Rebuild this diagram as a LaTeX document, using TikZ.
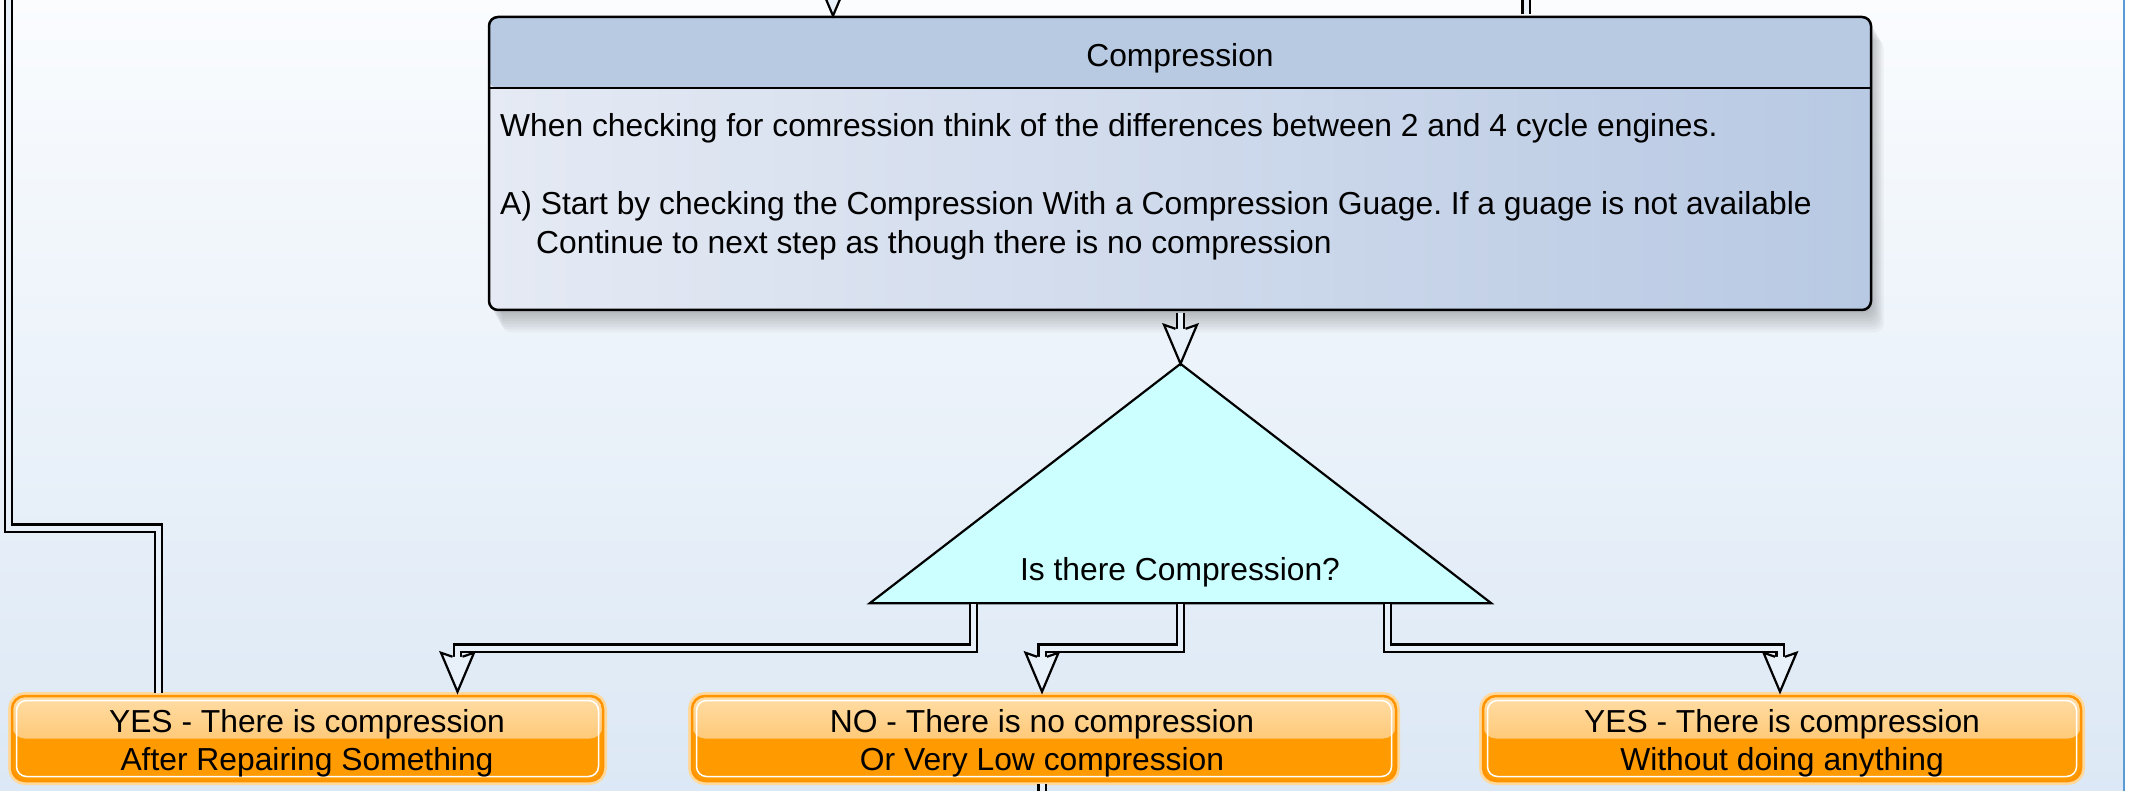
\documentclass[tikz,border=0pt]{standalone}
\usepackage{fontspec}
\setmainfont{Liberation Sans}
\usetikzlibrary{calc}
\frenchspacing
\definecolor{bgtop}{HTML}{FAFCFE}
\definecolor{bgbot}{HTML}{DCE8F5}
\definecolor{dbl}{HTML}{E8F0F9}
\definecolor{hdr}{HTML}{B8C9E2}
\definecolor{bodyL}{HTML}{E5EAF4}
\definecolor{bodyR}{HTML}{B8C9E3}
\definecolor{cyanf}{HTML}{CCFFFF}
\definecolor{orTop}{HTML}{FFDDA6}
\definecolor{orMid}{HTML}{FFB64C}
\definecolor{orBot}{HTML}{FF9A00}
\definecolor{orLine}{HTML}{FF9400}
\definecolor{orGlow}{HTML}{FFD89C}
\definecolor{edgeblue}{HTML}{5B9BD5}
\tikzset{
  txt/.style={inner sep=0pt, font=\fontsize{31.8pt}{38pt}\selectfont},
  conn/.style={draw=black, line width=2.2pt, double=dbl, double distance=5pt, line join=miter},
  headtip/.pic={
    \fill[dbl] (0,0) -- (-16.5,-39) -- (-5,-35) -- (5,-35) -- (16.5,-39) -- cycle;
    \draw[line width=2.2pt, line join=miter] (-5,-35) -- (-16.5,-39) -- (0,0) -- (16.5,-39) -- (5,-35);
  },
  obox/.style={draw=orLine, line width=2.5pt, rounded corners=13pt, fill=orBot,
    minimum width=#1, minimum height=85pt, inner sep=0pt,
    preaction={draw=orGlow, line width=8pt},
    path picture={
      \shade[top color=orTop, bottom color=orMid] (path picture bounding box.north west) rectangle (path picture bounding box.east);
      \draw[white, line width=1.5pt, rounded corners=10pt] ([shift={(4.5pt,4.5pt)}]path picture bounding box.south west) rectangle ([shift={(-4.5pt,-4.5pt)}]path picture bounding box.north east);
    }},
  cbox/.style={draw=black, line width=2.5pt, rounded corners=9pt,
    minimum width=1382pt, minimum height=293pt, inner sep=0pt,
    left color=bodyL, right color=bodyR,
    path picture={
      \fill[hdr] (path picture bounding box.north west) rectangle ([yshift=-71pt]path picture bounding box.north east);
      \draw[line width=2.5pt] ([yshift=-71pt]path picture bounding box.north west) -- ([yshift=-71pt]path picture bounding box.north east);
    }},
}
\begin{document}
\begin{tikzpicture}[x=1pt,y=-1pt]
\useasboundingbox (0,0) rectangle (2140,791);
\clip (0,0) rectangle (2140,791);
% background
\shade[top color=bgtop, bottom color=bgbot] (0,0) rectangle (2124,791);
\fill[white] (2124,0) rectangle (2140,791);
\draw[edgeblue, line width=2.5pt] (2124,0) -- (2124,791);
% shadow of compression box
\foreach \k in {1,...,8}
  \fill[black, opacity=0.03, rounded corners=9pt] (489+\k*1.6, 17+\k*2.8) rectangle (1871+\k*1.6, 310+\k*2.8);
% compression box
\node[cbox] (cmp) at (1180,163.5) {};
\node[txt, anchor=base] (cmpt) at (1180,67) {Compression};
\node[txt, anchor=base west] (cmpb1) at (500,137) {When checking for comression think of the differences between 2 and 4 cycle engines.};
\node[txt, anchor=base west] (cmpb2) at (500,215) {A) Start by checking the Compression With a Compression Guage. If a guage is not available};
\node[txt, anchor=base west] (cmpb3) at (536,254) {Continue to next step as though there is no compression};
% triangle
\node[minimum width=621pt, minimum height=239pt, inner sep=0pt] (tri) at (1180.5,483.5) {};
\draw[fill=cyanf, line width=2.2pt, line join=miter] (tri.south west) -- (tri.north) -- (tri.south east) -- cycle;
\node[txt, anchor=base] (q) at (1180,580) {Is there Compression?};
% orange boxes
\node[obox=591pt] (L) at (307.5,738.5) {};
\node[obox=704pt] (M) at (1044,738.5) {};
\node[obox=598pt] (R) at (1782,738.5) {};
\node[txt, anchor=base] (L1) at (307,732) {YES - There is compression};
\node[txt, anchor=base] (L2) at (307,770) {After Repairing Something};
\node[txt, anchor=base] (M1) at (1042,732) {NO - There is no compression};
\node[txt, anchor=base] (M2) at (1042,770) {Or Very Low compression};
\node[txt, anchor=base] (R1) at (1782,732) {YES - There is compression};
\node[txt, anchor=base] (R2) at (1782,770) {Without doing anything};
% coordinates
\coordinate (topin) at (833,-10);
\coordinate (topout) at (1526,-10);
\coordinate (lout) at (8.5,-10);
\coordinate (mout) at (1042,800);
\coordinate (lvl) at (0,648);
\coordinate (b1) at ($(tri.south west)!1/6!(tri.south east)$);
\coordinate (b2) at ($(tri.south west)!1/2!(tri.south east)$);
\coordinate (b3) at ($(tri.south west)!5/6!(tri.south east)$);
\coordinate (Lin) at ($(L.north)+(150,-3)$);
\coordinate (Min) at ($(M.north)+(-2,-3)$);
\coordinate (Rin) at ($(R.north)+(-2,-3)$);
% connectors
\draw[conn, shorten >=35pt] (topin) -- (topin |- cmp.north);
\pic at (topin |- cmp.north) {headtip};
\draw[conn] ($(cmp.north -| topout)+(0,-1.3)$) -- (topout);
\draw[conn, shorten >=35pt] ($(cmp.south -| tri.north)+(0,1.3)$) -- (tri.north);
\pic at (tri.north) {headtip};
\draw[conn, shorten >=35pt] ($(b1)+(0,1.2)$) -- (b1 |- lvl) -| (Lin);
\pic at (Lin) {headtip};
\draw[conn, shorten >=35pt] ($(b2)+(0,1.2)$) -- (b2 |- lvl) -| (Min);
\pic at (Min) {headtip};
\draw[conn, shorten >=35pt] ($(b3)+(0,1.2)$) -- (b3 |- lvl) -| (Rin);
\pic at (Rin) {headtip};
\draw[conn] ($(L.north)+(-149,-1.5)$) |- (8.5,528) -- (lout);
\draw[conn] ($(M.south)+(-2,1.5)$) -- (mout);
\end{tikzpicture}
\end{document}
